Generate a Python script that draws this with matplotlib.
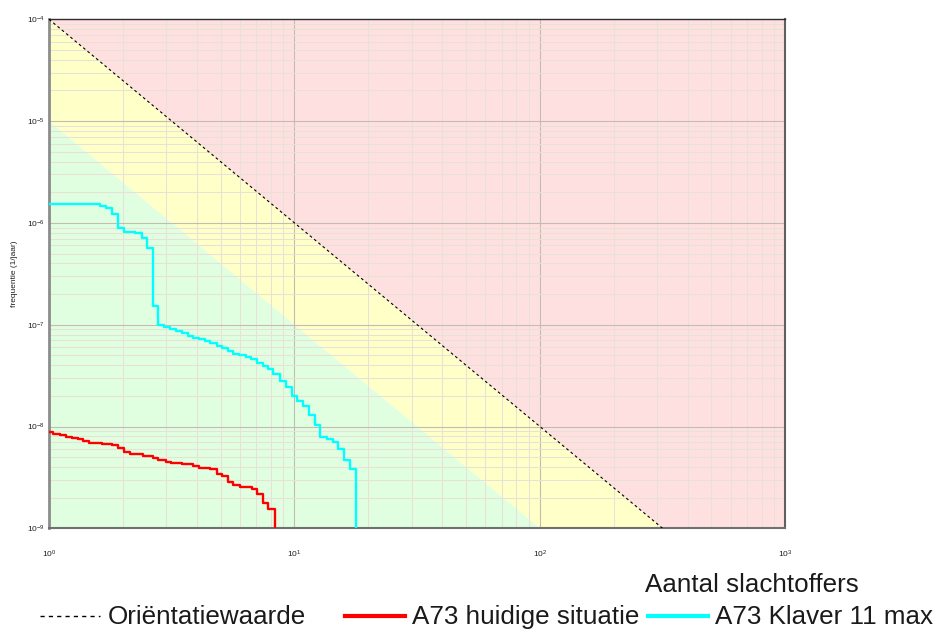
import matplotlib
matplotlib.use('Agg')
import matplotlib.pyplot as plt
from matplotlib.lines import Line2D

plt.rcParams['font.family'] = ['Liberation Sans', 'DejaVu Sans']

# ---------------- data ----------------
# Norm lines (F = c / N^2)
orient_N = [1, 1000]
orient_F = [1e-4, 1e-10]
green_N = [1, 1000]
green_F = [1e-5, 1e-11]

# A73 huidige situatie: step levels and the N where each level ends
red_ends = [1.041, 1.109, 1.173, 1.237, 1.309, 1.380, 1.460, 1.639, 1.800, 1.905,
            2.021, 2.138, 2.424, 2.661, 2.790, 2.988, 3.132, 3.473, 3.875, 4.086,
            4.530, 4.824, 5.053, 5.381, 5.639, 6.003, 6.698, 7.063, 7.471, 7.830,
            8.337]
red_F = [8.76e-9, 8.44e-9, 8.19e-9, 7.88e-9, 7.65e-9, 7.48e-9, 7.26e-9, 6.89e-9,
         6.78e-9, 6.58e-9, 6.10e-9, 5.66e-9, 5.37e-9, 5.13e-9, 4.94e-9, 4.69e-9,
         4.48e-9, 4.41e-9, 4.28e-9, 4.09e-9, 3.94e-9, 3.80e-9, 3.41e-9, 3.26e-9,
         2.87e-9, 2.68e-9, 2.56e-9, 2.41e-9, 2.17e-9, 1.76e-9, 1.54e-9]

# A73 Klaver 11 max
cyan_ends = [1.614, 1.707, 1.811, 1.905, 2.027, 2.241, 2.387, 2.502, 2.646, 2.789,
             2.942, 3.112, 3.293, 3.474, 3.674, 3.873, 4.098, 4.323, 4.530, 4.825,
             5.085, 5.349, 5.637, 5.964, 6.331, 6.656, 7.021, 7.427, 7.828, 8.204,
             8.736, 9.243, 9.750, 10.27, 10.87, 11.50, 12.13, 12.72, 13.62, 14.32,
             15.10, 15.93, 16.85, 17.78]
cyan_F = [1.543e-6, 1.476e-6, 1.391e-6, 1.223e-6, 8.85e-7, 8.09e-7, 7.90e-7, 7.16e-7,
          5.71e-7, 1.537e-7, 9.93e-8, 9.56e-8, 9.01e-8, 8.73e-8, 8.23e-8, 7.74e-8,
          7.40e-8, 7.19e-8, 6.96e-8, 6.66e-8, 6.22e-8, 5.86e-8, 5.52e-8, 5.19e-8,
          5.00e-8, 4.85e-8, 4.57e-8, 4.18e-8, 3.96e-8, 3.70e-8, 3.26e-8, 2.80e-8,
          2.46e-8, 1.994e-8, 1.780e-8, 1.579e-8, 1.306e-8, 1.034e-8, 7.83e-9, 7.59e-9,
          7.04e-9, 6.01e-9, 4.69e-9, 3.80e-9]

x_ticks = [1, 10, 100, 1000]
y_ticks = [1e-9, 1e-8, 1e-7, 1e-6, 1e-5, 1e-4]

legend_labels = ['Oriëntatiewaarde', 'A73 huidige situatie', 'A73 Klaver 11 max']
xlabel = 'Aantal slachtoffers'
ylabel = 'frequentie (1/jaar)'

# ---------------- figure ----------------
W, H = 935, 630
fig = plt.figure(figsize=(W / 100, H / 100), dpi=100)
L, R, T, B = 49, 785.3, 19.3, 528.3
ax = fig.add_axes([L / W, 1 - B / H, (R - L) / W, (B - T) / H])
ax.set_xscale('log')
ax.set_yscale('log')
ax.set_xlim(1, 1000)
ax.set_ylim(1e-9, 1e-4)

# coloured zones
ax.fill_between(orient_N, orient_F, [1e-2, 1e-2], color='#ffe0e0', lw=0, zorder=0.5)
ax.fill_between(orient_N, green_F, orient_F, color='#ffffc8', lw=0, zorder=0.5)
ax.fill_between(green_N, [1e-14, 1e-14], green_F, color='#e0ffe0', lw=0, zorder=0.5)

ax.grid(which='major', color='#c4bcb0', lw=0.8)
ax.grid(which='minor', color='#e8e1d8', lw=0.75)

ax.plot(orient_N, orient_F, color='black', lw=0.8, ls=(0, (2.5, 2.5)), zorder=3)

def steps(ends, levels):
    xs = [1] + list(ends)
    ys = list(levels) + [1e-14]
    return xs, ys

rx, ry = steps(red_ends, red_F)
cx, cy = steps(cyan_ends, cyan_F)
ax.step(rx, ry, where='post', color='#ff0000', lw=1.7, zorder=4)
ax.step(cx, cy, where='post', color='#00ffff', lw=1.7, zorder=4)

ax.set_xticks(x_ticks)
ax.set_yticks(y_ticks)
ax.tick_params(which='both', length=0, labelsize=6, colors='#202020')
ax.tick_params(axis='x', pad=15)
ax.tick_params(axis='y', pad=3)

for side, c, w in [('left', '#8c8c8c', 2.0), ('bottom', '#707070', 1.5),
                   ('top', '#303030', 1.0), ('right', '#606060', 1.5)]:
    ax.spines[side].set_color(c)
    ax.spines[side].set_linewidth(w)

fig.text(14 / W, 1 - 274 / H, ylabel, rotation=90, fontsize=6,
         ha='center', va='center', color='#202020')
fig.text(645 / W, 1 - 592 / H, xlabel, fontsize=18.7, ha='left', va='baseline',
         color='#1a1a1a')

# manual legend
leg_y = 1 - 616 / H
handles = [((40, 100), dict(color='black', lw=1.0, ls=(0, (3, 3)))),
           ((345, 405), dict(color='#ff0000', lw=3.0)),
           ((648, 708), dict(color='#00ffff', lw=3.0))]
text_x = [108, 412, 715]
for (xs, kw), tx, lab in zip(handles, text_x, legend_labels):
    fig.add_artist(Line2D([xs[0] / W, xs[1] / W], [leg_y, leg_y],
                          transform=fig.transFigure, **kw))
    fig.text(tx / W, 1 - 624 / H, lab, fontsize=18.7, ha='left', va='baseline',
             color='#1a1a1a')

fig.savefig('out.png', dpi=100)
